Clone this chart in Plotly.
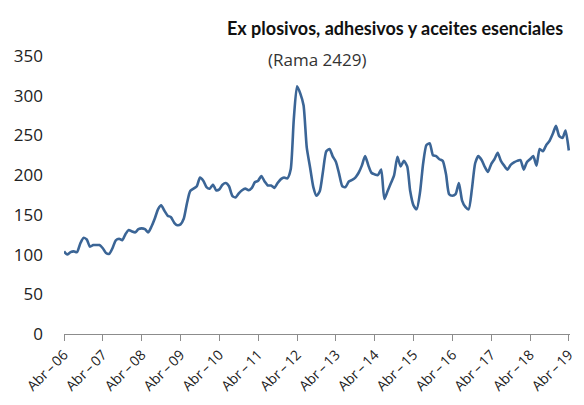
import pandas as pd
import plotly.graph_objects as go

# monthly index, Abr-2006 .. Abr-2019
months = pd.date_range("2006-04-01", "2019-04-01", freq="MS")
values = [
    104, 100, 103, 104, 103, 114, 121, 119, 110, 112, 112, 112,
    108, 102, 101, 108, 118, 120, 118, 126, 131, 129, 128, 132,
    133, 132, 128, 135, 145, 157, 162, 155, 149, 147, 140, 137,
    138, 145, 165, 180, 183, 186, 197, 193, 185, 183, 188, 181,
    182, 188, 190, 186, 174, 172, 177, 181, 183, 181, 184, 191,
    193, 199, 192, 187, 187, 184, 190, 195, 197, 196, 207, 270,
    312, 303, 288, 235, 210, 185, 174, 180, 205, 230, 233, 224,
    217, 202, 186, 185, 192, 194, 197, 203, 212, 224, 212, 203,
    201, 200, 207, 170, 180, 190, 200, 223, 211, 218, 211, 180,
    162, 157, 178, 215, 238, 240, 225, 224, 220, 218, 201, 176,
    174, 176, 190, 168, 160, 157, 182, 215, 224, 219, 210, 204,
    214, 220, 228, 218, 212, 207, 213, 216, 218, 219, 207, 216,
    220, 224, 212, 233, 230, 238, 243, 252, 262, 249, 247, 256,
    231,
]

tick_dates = pd.date_range("2006-04-01", "2019-04-01", freq="12MS")
tick_labels = [f"Abr\u2009\u2013\u2009{d.year % 100:02d}" for d in tick_dates]
y_ticks = [0, 50, 100, 150, 200, 250, 300, 350]

fig = go.Figure()
fig.add_trace(go.Scatter(
    x=months, y=values, mode="lines",
    line=dict(color="#3b6596", width=2.6, shape="spline", smoothing=0.6),
    showlegend=False, hoverinfo="skip",
))

# the page body adds an 8px margin all round, so keep the figure inside it
fig.add_annotation(
    text="<b>Ex plosivos, adhesivos y aceites esenciales</b>",
    xref="paper", yref="paper", x=0.655, y=1.10,
    xanchor="center", yanchor="middle", showarrow=False,
    font=dict(family="Lato", size=18, color="#111111"),
)
fig.add_annotation(
    text="(Rama 2429)",
    xref="paper", yref="paper", x=0.50, y=0.986,
    xanchor="center", yanchor="middle", showarrow=False,
    font=dict(family="Open Sans", size=17, color="#333333"),
)

fig.update_layout(
    width=568, height=389,
    margin=dict(l=56, r=6, t=48, b=63),
    plot_bgcolor="white", paper_bgcolor="white",
    xaxis=dict(
        range=["2006-04-01", "2019-04-12"],
        tickvals=tick_dates, ticktext=tick_labels,
        tickangle=-45, showgrid=False, zeroline=False,
        showline=True, linecolor="#8c8c8c", linewidth=1.3,
        ticks="outside", ticklen=6, tickcolor="#8c8c8c",
        tickfont=dict(family="Open Sans", size=14, color="#222222"),
        ticklabeloverflow="allow", automargin=False,
    ),
    yaxis=dict(
        range=[0, 350], tickvals=y_ticks,
        showgrid=False, zeroline=False, showline=False,
        ticks="", ticklabelstandoff=20,
        tickfont=dict(family="Open Sans", size=17, color="#222222"),
        automargin=False,
    ),
)

fig.write_html("out.html")
